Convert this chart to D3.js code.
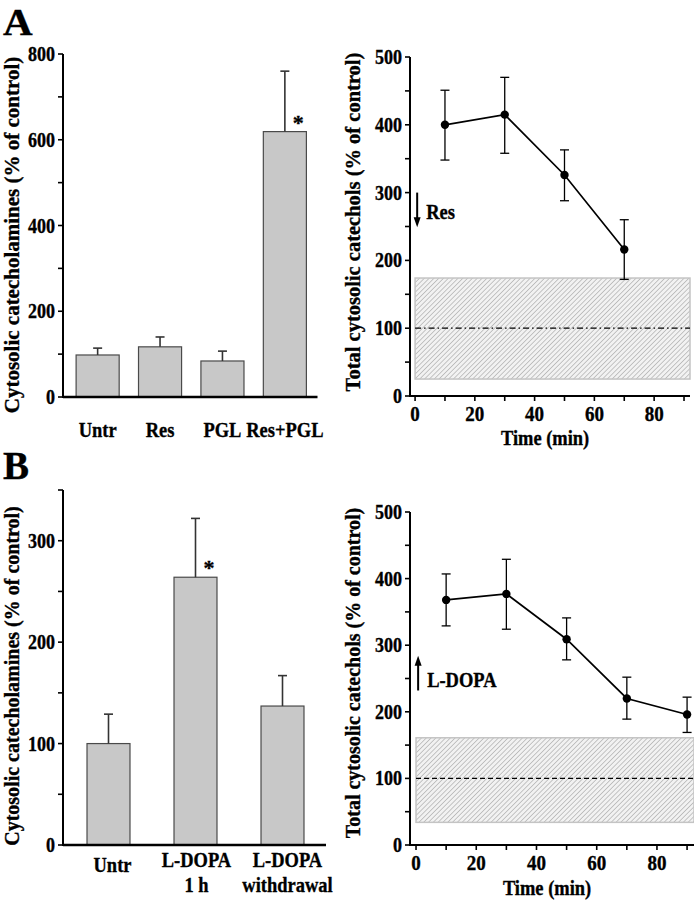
<!DOCTYPE html>
<html><head><meta charset="utf-8">
<script src="https://cdn.jsdelivr.net/npm/d3@7"></script>
<style>
html,body{margin:0;padding:0;background:#fff;}
svg text{font-family:"Liberation Serif","Times New Roman",serif;font-weight:bold;fill:#000;stroke:#000;stroke-width:0.35px;}
</style></head>
<body>
<svg id="c" width="694" height="900"></svg>
<script>
// ---- Data ----
// Panel A left
const aBarCats = ["Untr","Res","PGL","Res+PGL"];
const aBarVals = [98, 117, 84, 619];
const aBarErr  = [16, 23, 23, 141];
const aBarStar = [false,false,false,true];
const aYTicksLeft = [0,200,400,600,800];
// Panel A right
const aTime = [10, 30, 50, 70];
const aTotal = [400, 415, 326, 216];
const aTotalErrUp = [51, 55, 37, 44];
const aTotalErrDn = [52, 57, 38, 44];
const aBand = [25, 174];
// Panel B left
const bBarCats = [["Untr"],["L-DOPA","1 h"],["L-DOPA","withdrawal"]];
const bBarVals = [100, 264, 137];
const bBarErr  = [29, 58, 30];
const bBarStar = [false,true,false];
const bYTicksLeft = [0,100,200,300];
// Panel B right
const bTime = [10, 30, 50, 70, 90];
const bTotal = [368, 377, 309, 220, 196];
const bTotalErrUp = [39, 52, 32, 32, 26];
const bTotalErrDn = [39, 53, 31, 31, 27];
const bBand = [34, 161];
const timeTicks = [0,20,40,60,80];
const yTicksRight = [0,100,200,300,400,500];

const svg = d3.select("#c");
const defs = svg.append("defs");
const pat = defs.append("pattern").attr("id","hatch").attr("patternUnits","userSpaceOnUse")
  .attr("width",3.4).attr("height",3.4).attr("patternTransform","rotate(45)");
pat.append("rect").attr("width",3.4).attr("height",3.4).attr("fill","#f2f2f2");
pat.append("line").attr("x1",0).attr("y1",0).attr("x2",0).attr("y2",3.4)
  .attr("stroke","#a4a4a4").attr("stroke-width",1.2);

// text helper: condensed serif bold
function txt(g, x, y, str, size, sx, anchor, dy){
  return g.append("text").attr("transform",`translate(${x},${y}) scale(${sx},1)`)
    .attr("text-anchor",anchor||"start").attr("dy",dy||null).attr("font-size",size).text(str);
}

txt(svg, 3, 35, "A", 38, 1.08, "start");
txt(svg, 3, 479, "B", 39, 1.0, "start");

function yAxis(g, y, x0, major, minorStep, max){
  const minor = d3.range(0, max+0.001, minorStep);
  const ax = g.append("g").attr("transform",`translate(${x0},0)`);
  ax.append("line").attr("x1",0).attr("x2",0).attr("y1",y(0)+1).attr("y2",y(max))
    .attr("stroke","#000").attr("stroke-width",2);
  ax.selectAll("line.t").data(minor).join("line").attr("class","t")
    .attr("x1",-5).attr("x2",0).attr("y1",d=>y(d)).attr("y2",d=>y(d))
    .attr("stroke","#000").attr("stroke-width",1.6);
  major.forEach(d=>txt(ax, -8, y(d), d, 20, 0.9, "end", "0.35em"));
}

function yTitle(text, x, yc, size){
  svg.append("text").attr("transform",`translate(${x},${yc}) rotate(-90)`)
    .attr("text-anchor","middle").attr("font-size",size).text(text);
}

// ---------- Bar panel ----------
function barPanel(opts){
  const {cats, vals, errs, stars, yDomMax, yRange, xRange, pi, po, majorTicks, minorStep, labelY, lineGap} = opts;
  const g = svg.append("g");
  const x = d3.scaleBand().domain(d3.range(cats.length)).range(xRange).paddingInner(pi).paddingOuter(po);
  const y = d3.scaleLinear().domain([0,yDomMax]).range(yRange);
  g.selectAll("rect.bar").data(vals).join("rect").attr("class","bar")
    .attr("x",(d,i)=>x(i)).attr("width",x.bandwidth())
    .attr("y",d=>y(d)).attr("height",d=>y(0)-y(d))
    .attr("fill","#c8c8c8").attr("stroke","#4a4a4a").attr("stroke-width",1.2);
  vals.forEach((v,i)=>{
    const cx = x(i)+x.bandwidth()/2;
    g.append("line").attr("x1",cx).attr("x2",cx).attr("y1",y(v)).attr("y2",y(v+errs[i]))
      .attr("stroke","#333").attr("stroke-width",1.6);
    g.append("line").attr("x1",cx-4.5).attr("x2",cx+4.5).attr("y1",y(v+errs[i])).attr("y2",y(v+errs[i]))
      .attr("stroke","#333").attr("stroke-width",1.6);
    if(stars[i]) txt(g, cx+13.5, y(v)-14, "*", 22, 1, "middle", "0.55em");
  });
  g.append("line").attr("x1",xRange[0]).attr("x2",xRange[1]-2).attr("y1",y(0)).attr("y2",y(0))
    .attr("stroke","#000").attr("stroke-width",2.5);
  yAxis(g, y, xRange[0], majorTicks, minorStep, yDomMax);
  cats.forEach((c,i)=>{
    const cx = x(i)+x.bandwidth()/2;
    const lines = Array.isArray(c)?c:[c];
    lines.forEach((ln,k)=>{
      let yy = labelY + k*lineGap;
      if(lines.length===1 && opts.singleOffset) yy += opts.singleOffset;
      txt(g, cx+(opts.labelDx?opts.labelDx[i]:0), yy, ln, 22, 0.84, "middle");
    });
  });
  return {x,y};
}

barPanel({cats:aBarCats, vals:aBarVals, errs:aBarErr, stars:aBarStar, yDomMax:800,
  yRange:[397,54], xRange:[63,319.5], pi:0.31, po:0.21, majorTicks:aYTicksLeft, minorStep:100,
  labelY:437, lineGap:0, labelDx:[0,0,0,0]});
yTitle("Cytosolic catecholamines (% of control)", 19, 235, 21);

barPanel({cats:bBarCats, vals:bBarVals, errs:bBarErr, stars:bBarStar, yDomMax:350,
  yRange:[845,490], xRange:[63,328], pi:0.506, po:0.276, majorTicks:bYTicksLeft, minorStep:50,
  labelY:867, lineGap:25, singleOffset:5, labelDx:[4,1,5]});
yTitle("Cytosolic catecholamines (% of control)", 19, 676, 20);

// ---------- Time panel ----------
function timePanel(opts){
  const {t, v, up, dn, band, bandStyle, xDom, xRange, yRange, arrow, tickY, titleY} = opts;
  const g = svg.append("g");
  const x = d3.scaleLinear().domain(xDom).range(xRange);
  const y = d3.scaleLinear().domain([0,500]).range(yRange);
  g.append("rect").attr("x",x(0)).attr("width",x(xDom[1])-x(0))
    .attr("y",y(band[1])).attr("height",y(band[0])-y(band[1]))
    .attr("fill","url(#hatch)").attr("stroke","#c4c4c4").attr("stroke-width",1.5);
  g.append("line").attr("x1",x(0)).attr("x2",x(xDom[1])).attr("y1",y(100)).attr("y2",y(100))
    .attr("stroke","#000").attr("stroke-width",1.3).attr("stroke-dasharray",bandStyle);
  const pts = t.map((d,i)=>[d,v[i]]);
  g.append("path").datum(pts).attr("d",d3.line().x(d=>x(d[0])).y(d=>y(d[1])))
    .attr("fill","none").attr("stroke","#000").attr("stroke-width",1.7);
  pts.forEach((p,i)=>{
    const cx = x(p[0]);
    const yt = y(p[1]+up[i]), yb = y(p[1]-dn[i]);
    g.append("line").attr("x1",cx).attr("x2",cx).attr("y1",yt).attr("y2",yb).attr("stroke","#000").attr("stroke-width",1.3);
    [yt,yb].forEach(yy=>g.append("line").attr("x1",cx-4.5).attr("x2",cx+4.5).attr("y1",yy).attr("y2",yy)
      .attr("stroke","#000").attr("stroke-width",1.3));
  });
  g.selectAll("circle").data(pts).join("circle").attr("cx",d=>x(d[0])).attr("cy",d=>y(d[1]))
    .attr("r",4.2).attr("fill","#000");
  yAxis(g, y, xRange[0], yTicksRight, 50, 500);
  g.append("line").attr("x1",xRange[0]-1).attr("x2",xRange[1]).attr("y1",y(0)).attr("y2",y(0))
    .attr("stroke","#000").attr("stroke-width",2);
  const minorX = d3.range(0, 91, 10);
  g.selectAll("line.xt").data(minorX).join("line").attr("class","xt")
    .attr("x1",d=>x(d)).attr("x2",d=>x(d)).attr("y1",y(0)).attr("y2",y(0)+5)
    .attr("stroke","#000").attr("stroke-width",1.6);
  timeTicks.forEach(d=>txt(g, x(d), tickY, d, 20, 0.95, "middle"));
  txt(g, x(43.5), titleY, "Time (min)", 20.5, 0.9, "middle");
  const ax = x(arrow.t);
  const y1 = y(arrow.from), y2 = y(arrow.to);
  const dir = Math.sign(y2-y1);
  g.append("line").attr("x1",ax).attr("x2",ax).attr("y1",y1).attr("y2",y2-dir*8)
    .attr("stroke","#000").attr("stroke-width",2);
  g.append("path").attr("d",`M${ax-3.5},${y2-dir*10} L${ax+3.5},${y2-dir*10} L${ax},${y2} Z`).attr("fill","#000");
  txt(g, ax+9, y(arrow.labelV), arrow.label, 21, 0.88, "start", "0.35em");
  return {x,y};
}

timePanel({t:aTime, v:aTotal, up:aTotalErrUp, dn:aTotalErrDn, band:aBand, bandStyle:"6,3,1.5,3",
  xDom:[-1.7,92], xRange:[410,690], yRange:[396,57],
  arrow:{t:0.7, from:300, to:249, label:"Res", labelV:272}, tickY:421, titleY:445});
yTitle("Total cytosolic catechols (% of control)", 360, 222, 20.5);

timePanel({t:bTime, v:bTotal, up:bTotalErrUp, dn:bTotalErrDn, band:bBand, bandStyle:"5,3",
  xDom:[-2,92.3], xRange:[410,694], yRange:[845,512],
  arrow:{t:0.7, from:232, to:284, label:"L-DOPA", labelV:248}, tickY:870, titleY:895});
yTitle("Total cytosolic catechols (% of control)", 360, 673, 20);
</script>
</body></html>
